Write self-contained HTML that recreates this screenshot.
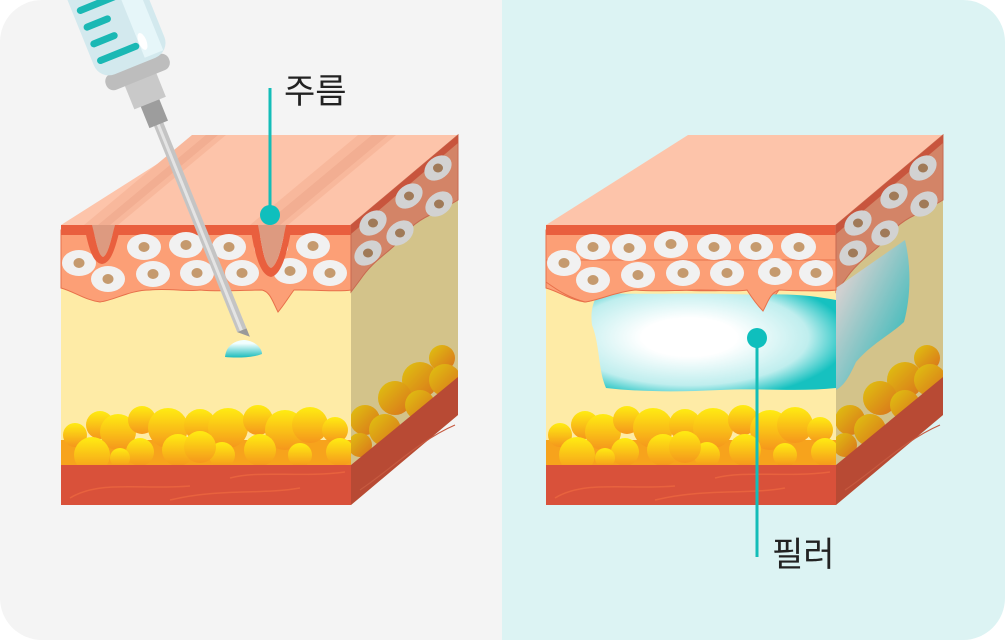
<!DOCTYPE html>
<html><head><meta charset="utf-8"><style>
html,body{margin:0;padding:0;background:#fff;}
svg{display:block}
text{font-family:"Liberation Sans","Noto Sans CJK KR",sans-serif;}
</style></head><body>
<svg width="1005" height="640" viewBox="0 0 1005 640" xmlns="http://www.w3.org/2000/svg">
<defs>
<clipPath id="card"><rect x="0" y="0" width="1005" height="640" rx="42"/></clipPath>
<clipPath id="side"><polygon points="351,225 458,135 458,415 351,505"/></clipPath>
<clipPath id="front"><rect x="61" y="225" width="290" height="280"/></clipPath>
<linearGradient id="fatg" x1="0" y1="0" x2="0" y2="1"><stop offset="0" stop-color="#ffec12"/><stop offset="1" stop-color="#f5961c"/></linearGradient>
<linearGradient id="fats" x1="0" y1="0" x2="1" y2="1"><stop offset="0" stop-color="#e0c410"/><stop offset="1" stop-color="#d9701c"/></linearGradient>
<radialGradient id="fill" cx="0.4" cy="0.45" r="0.65"><stop offset="0.3" stop-color="#ffffff"/><stop offset="0.75" stop-color="#bfeeee"/><stop offset="1" stop-color="#16c1c0"/></radialGradient>
<linearGradient id="fillside" x1="0" y1="0" x2="1" y2="1"><stop offset="0.2" stop-color="#d0d0d0"/><stop offset="1" stop-color="#12b5b5"/></linearGradient>
<linearGradient id="drop" x1="0" y1="0" x2="0" y2="1"><stop offset="0.2" stop-color="#f2ffff"/><stop offset="1" stop-color="#1bbcbc"/></linearGradient>
<g id="cell"><ellipse rx="17" ry="13" fill="#f1f1f1"/><ellipse rx="5.5" ry="5" fill="#c59a6e"/></g>
<g id="scell"><ellipse rx="15" ry="11" fill="#d2d2d2" transform="rotate(-38)"/><ellipse rx="5" ry="4.5" fill="#a07a58"/></g>
<g id="cube">
  <polygon points="61,225 351,225 458,135 203,135" fill="#fdc4aa"/>
  <rect x="61" y="230" width="290" height="240" fill="#feeba6"/>
  <path d="M61,230 H351 V290 C340,292 320,290 300,290 L294,290 C288,298 284,305 278,312 C272,300 270,292 262,290 C240,290 220,292 200,290 C185,292 170,288 150,290 C130,290 115,300 100,302 C85,300 75,292 61,288 Z" fill="#fc9f76" stroke="#e8704a" stroke-width="1"/>
  <rect x="61" y="225" width="290" height="10" fill="#e95f3e"/>
  <use href="#cell" x="79" y="263"/><use href="#cell" x="108" y="279"/><use href="#cell" x="144" y="247"/>
  <use href="#cell" x="153" y="274"/><use href="#cell" x="186" y="245"/><use href="#cell" x="197" y="273"/>
  <use href="#cell" x="229" y="247"/><use href="#cell" x="242" y="273"/><use href="#cell" x="271" y="247"/>
  <use href="#cell" x="290" y="271"/><use href="#cell" x="313" y="246"/><use href="#cell" x="330" y="273"/>
  <g clip-path="url(#front)">
  <rect x="61" y="440" width="290" height="26" fill="#f7a31c"/>
  <g fill="url(#fatg)">
    <circle cx="75" cy="435" r="12"/><circle cx="100" cy="425" r="14"/><circle cx="118" cy="432" r="18"/>
    <circle cx="142" cy="420" r="14"/><circle cx="168" cy="428" r="20"/><circle cx="200" cy="425" r="16"/>
    <circle cx="228" cy="428" r="20"/><circle cx="258" cy="420" r="15"/><circle cx="285" cy="430" r="20"/>
    <circle cx="310" cy="425" r="18"/><circle cx="335" cy="430" r="13"/><circle cx="92" cy="455" r="18"/>
    <circle cx="140" cy="452" r="14"/><circle cx="178" cy="450" r="16"/><circle cx="222" cy="455" r="13"/>
    <circle cx="260" cy="450" r="16"/><circle cx="300" cy="455" r="12"/><circle cx="340" cy="452" r="14"/>
    <circle cx="200" cy="447" r="16"/><circle cx="120" cy="458" r="10"/>
  </g>
  </g>
  <rect x="61" y="465" width="290" height="40" fill="#d9513a"/>
  <path d="M70,498 C100,480 140,490 190,486 M170,500 C220,488 260,495 300,488 M230,478 C260,470 300,478 345,472" stroke="#e8623e" stroke-width="1.5" fill="none"/>
  <polygon points="351,225 458,135 458,415 351,505" fill="#d3c38a"/>
  <path d="M351,225 L458,135 V200 C450,205 440,210 430,215 C415,222 405,232 395,245 C385,255 372,262 360,280 L351,292 Z" fill="#d38467" stroke="#c86a50" stroke-width="1"/>
  <polygon points="351,225 458,135 458,143 351,234" fill="#c8553d"/>
  <use href="#scell" x="373" y="223"/><use href="#scell" x="400" y="233"/><use href="#scell" x="368" y="253"/>
  <use href="#scell" x="409" y="196"/><use href="#scell" x="439" y="204"/><use href="#scell" x="438" y="168"/>
  <g fill="url(#fats)" clip-path="url(#side)">
    <circle cx="442" cy="358" r="13"/><circle cx="420" cy="380" r="18"/><circle cx="445" cy="380" r="16"/>
    <circle cx="395" cy="398" r="17"/><circle cx="420" cy="405" r="15"/><circle cx="365" cy="420" r="15"/>
    <circle cx="385" cy="430" r="16"/><circle cx="360" cy="445" r="12"/>
  </g>
  <polygon points="351,465 458,377 458,415 351,505" fill="#b84a34"/>
  <path d="M360,490 C390,470 420,440 455,425" stroke="#c65a40" stroke-width="1.2" fill="none"/>
</g>
</defs>
<g clip-path="url(#card)">
  <rect x="0" y="0" width="502" height="640" fill="#f4f4f4"/>
  <rect x="502" y="0" width="503" height="640" fill="#dcf3f3"/>
</g>

<use href="#cube"/>
<polygon points="84,225 118,225 226,135 192,135" fill="#f8b89c"/>
<polygon points="98,225 110,225 218,135 206,135" fill="#eca488" opacity="0.5"/>
<polygon points="250,225 288,225 396,135 358,135" fill="#f8b89c"/>
<polygon points="264,225 280,225 388,135 372,135" fill="#eca488" opacity="0.5"/>
<path d="M84,225 L92,225 C96,240 98,255 103,257 C108,255 111,240 115,225 L121,225 C116,245 112,263 102,264 C92,263 88,245 84,225 Z" fill="#e95f3e"/>
<path d="M92,225 H115 C111,240 108,255 103,257 C98,255 96,240 92,225 Z" fill="#dd9a80"/>
<path d="M250,225 L258,225 C262,245 264,265 271,268 C278,265 282,245 286,225 L292,225 C288,250 282,275 271,277 C259,275 254,250 250,225 Z" fill="#e95f3e"/>
<path d="M258,225 H286 C282,245 278,265 271,268 C264,265 262,245 258,225 Z" fill="#dd9a80"/>

<use href="#cube" x="485"/>
<path d="M836,300 L836,388 C800,392 760,388 720,390 C680,392 640,392 606,388 C598,370 600,345 592,325 C590,310 594,298 600,293 C640,295 700,292 760,295 C790,293 815,296 836,300 Z" fill="url(#fill)"/>
<path d="M836,288 L905,240 C912,270 910,300 904,322 C890,335 870,345 856,362 C850,375 845,385 836,390 Z" fill="url(#fillside)"/>
<path d="M546,282 C560,292 570,298 585,302 C600,300 615,292 635,290 C660,292 680,290 700,290 C720,290 735,292 747,290 C752,298 758,306 763,311 C768,302 770,293 779,290 C800,291 820,291 836,290 V260 H546 Z" fill="#fc9f76" stroke="#e8704a" stroke-width="1"/>
<use href="#cell" x="564" y="263"/><use href="#cell" x="593" y="280"/><use href="#cell" x="638" y="275"/>
<use href="#cell" x="683" y="273"/><use href="#cell" x="727" y="273"/><use href="#cell" x="775" y="272"/>
<use href="#cell" x="816" y="273"/><use href="#cell" x="593" y="247"/><use href="#cell" x="629" y="248"/>
<use href="#cell" x="671" y="244"/><use href="#cell" x="714" y="247"/><use href="#cell" x="756" y="247"/><use href="#cell" x="799" y="247"/>

<g transform="translate(243,333) rotate(-22)">
  <rect x="-5" y="-230" width="10" height="227" fill="#c4c4c4"/>
  <rect x="-2" y="-230" width="3" height="227" fill="#e4e4e4"/>
  <polygon points="-5,-3 5,-3 5,6 -5,-3" fill="#9a9a9a"/>
  <rect x="-10" y="-250" width="20" height="25" fill="#9d9d9d"/>
  <rect x="-17" y="-275" width="34" height="27" fill="#c9c9c9"/>
  <rect x="-34" y="-290" width="68" height="17" rx="8" fill="#bdbdbd"/>
  <rect x="-38" y="-480" width="76" height="192" rx="16" fill="#d3e9ee"/>
  <rect x="12" y="-480" width="20" height="188" fill="#e6f6f9"/>
  <g stroke="#1ab8b4" stroke-width="7" stroke-linecap="round">
    <line x1="-30" y1="-306" x2="8" y2="-306"/><line x1="-30" y1="-324" x2="-8" y2="-324"/>
    <line x1="-30" y1="-342" x2="-8" y2="-342"/><line x1="-30" y1="-360" x2="8" y2="-360"/>
    <line x1="-30" y1="-378" x2="-8" y2="-378"/><line x1="-30" y1="-396" x2="-8" y2="-396"/>
    <line x1="-30" y1="-414" x2="8" y2="-414"/><line x1="-30" y1="-432" x2="-8" y2="-432"/>
  </g>
  <ellipse cx="16" cy="-308" rx="4" ry="9" fill="#fff"/>
</g>
<path d="M225,357 C226,345 236,340 245,340 C255,341 262,348 262,354 C252,358 235,358 225,357 Z" fill="url(#drop)"/>

<line x1="270" y1="88" x2="270" y2="215" stroke="#13bdb8" stroke-width="3"/>
<circle cx="270" cy="215" r="10" fill="#0fbfbd"/>
<text x="284" y="103" font-size="34" fill="#222">주름</text>
<line x1="757" y1="338" x2="757" y2="557" stroke="#13bdb8" stroke-width="3"/>
<circle cx="757" cy="338" r="10" fill="#0fbfbd"/>
<text x="772" y="566" font-size="34" fill="#222">필러</text>
</svg>
</body></html>
